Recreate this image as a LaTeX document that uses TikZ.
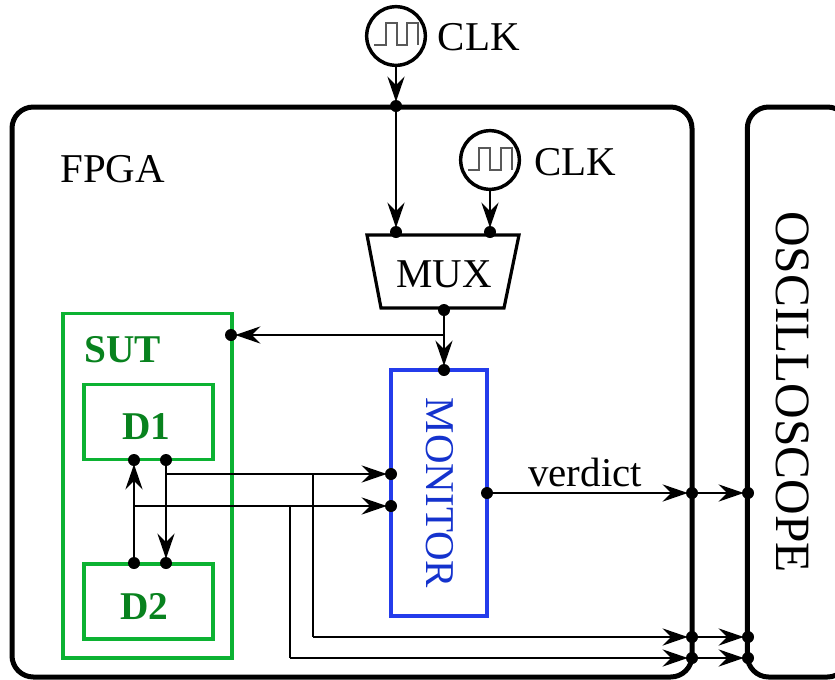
\documentclass[tikz,border=0pt]{standalone}
\usepackage{fontspec}
\setmainfont{Liberation Serif}
\usetikzlibrary{arrows.meta}
\definecolor{sutgreen}{RGB}{12,178,50}
\definecolor{sutdark}{RGB}{8,130,30}
\definecolor{monblue}{RGB}{36,60,235}
\definecolor{montext}{RGB}{20,50,205}
\tikzset{
  px/.style={x=0.75pt,y=-0.75pt},
  frame/.style={draw=black,line width=3.75pt,rounded corners=16pt,inner sep=0pt},
  greenbox/.style={draw=sutgreen,line width=2.4pt,inner sep=0pt},
  bluebox/.style={draw=monblue,line width=2.4pt,inner sep=0pt},
  muxshape/.style={draw=black,line width=2.4pt,line join=miter},
  clockring/.style={circle,draw=black,fill=white,line width=2.6pt,inner sep=0pt,minimum size=44pt},
  wave/.style={draw=black!65,line width=0.8pt},
  pin/.style={circle,fill=black,inner sep=0pt,minimum size=9pt},
  wire/.style={draw=black,line width=1.25pt},
  arrowwire/.style={wire,shorten >=-1.5pt,-{Stealth[length=19pt,width=13pt,inset=6.5pt]}},
  txt/.style={inner sep=0pt,font=\fontsize{30.7}{36}\selectfont,anchor=base west},
  boldtxt/.style={txt,text=sutdark,font=\fontsize{29.5}{35}\selectfont\bfseries},
}
\begin{document}
\begin{tikzpicture}[px]
\clip (0,0) rectangle (835,679);
% frames
\node[frame,minimum width=510pt,minimum height=427.5pt] (fpga) at (352,392) {};
\node[frame,minimum width=76pt,minimum height=427.5pt] (scope) at (798,392) {};
% SUT
\node[greenbox,minimum width=126.75pt,minimum height=258.4pt] (sut) at (147.5,485.75) {};
\node[greenbox,minimum width=96.75pt,minimum height=56.25pt] (d1) at (148.5,422) {};
\node[greenbox,minimum width=96.75pt,minimum height=56.25pt] (d2) at (148.5,601.5) {};
\node[bluebox,minimum width=72pt,minimum height=184.5pt] (monitor) at (439,493) {};
% MUX
\draw[muxshape] (367,235) -- (519,235) -- (504,308) -- (381,308) -- cycle;
% clocks
\node[clockring] (clka) at (396,36) {};
\node[clockring] (clkb) at (490,160) {};
\draw[wave] (374,45) -- (386,45) -- (386,23) -- (397,23) -- (397,45) -- (407,45) -- (407,23) -- (418,23) -- (418,45);
\draw[wave] (468,170) -- (479,170) -- (479,148) -- (490,148) -- (490,170) -- (501,170) -- (501,148) -- (512,148) -- (512,170);
% junctions
\coordinate (jclk) at (444,335);
\coordinate (ja) at (166,474);
\coordinate (jb) at (134,506);
\coordinate (jc) at (313,474);
\coordinate (jd) at (290,506);
\coordinate (je) at (313,637);
\coordinate (jf) at (290,658);
% pins
\node[pin] (pfpgatop) at (396,106) {};
\node[pin] (pmuxa) at (396,232) {};
\node[pin] (pmuxb) at (490,232) {};
\node[pin] (pmuxout) at (444,310) {};
\node[pin] (pmontop) at (444,370) {};
\node[pin] (psut) at (231,335) {};
\node[pin] (pd1a) at (134,460) {};
\node[pin] (pd1b) at (166,460) {};
\node[pin] (pd2a) at (134,563) {};
\node[pin] (pd2b) at (166,563) {};
\node[pin] (pmona) at (391,474) {};
\node[pin] (pmonb) at (391,506) {};
\node[pin] (pmonout) at (487,493) {};
\node[pin] (pfa) at (692,493) {};
\node[pin] (pfb) at (692,637) {};
\node[pin] (pfc) at (692,658) {};
\node[pin] (psa) at (748,493) {};
\node[pin] (psb) at (748,637) {};
\node[pin] (psc) at (748,658) {};
% connectors
\draw[arrowwire] (clka) -- (pfpgatop);
\draw[arrowwire] (pfpgatop) -- (pmuxa);
\draw[arrowwire] (clkb) -- (pmuxb);
\draw[arrowwire] (pmuxout) -- (pmontop);
\draw[arrowwire] (jclk) -- (psut);
\draw[arrowwire] (pd1b) -- (pd2b);
\draw[arrowwire] (pd2a) -- (pd1a);
\draw[arrowwire] (ja) -- (pmona);
\draw[arrowwire] (jb) -- (pmonb);
\draw[wire] (jc) -- (je);
\draw[wire] (jd) -- (jf);
\draw[arrowwire] (je) -- (pfb);
\draw[arrowwire] (jf) -- (pfc);
\draw[arrowwire] (pmonout) -- (pfa);
\draw[arrowwire] (pfa) -- (psa);
\draw[arrowwire] (pfb) -- (psb);
\draw[arrowwire] (pfc) -- (psc);
% labels
\node[txt] (lclka) at (437.5,50) {CLK};
\node[txt] (lclkb) at (534,175) {CLK};
\node[txt] (lfpga) at (60,182) {FPGA};
\node[txt] (lmux) at (396,287) {MUX};
\node[txt] (lverdict) at (528,486) {verdict};
\node[boldtxt] (lsut) at (84,362) {SUT};
\node[boldtxt] (ld1) at (122,439) {D1};
\node[boldtxt] (ld2) at (120,619) {D2};
\node[inner sep=0pt,rotate=-90,text=montext,font=\fontsize{30.7}{36}\selectfont] (lmon) at (440,493) {MONITOR};
\node[inner sep=0pt,rotate=-90,font=\fontsize{37}{44}\selectfont] (lscope) at (793,392) {OSCILLOSCOPE};
\end{tikzpicture}
\end{document}
